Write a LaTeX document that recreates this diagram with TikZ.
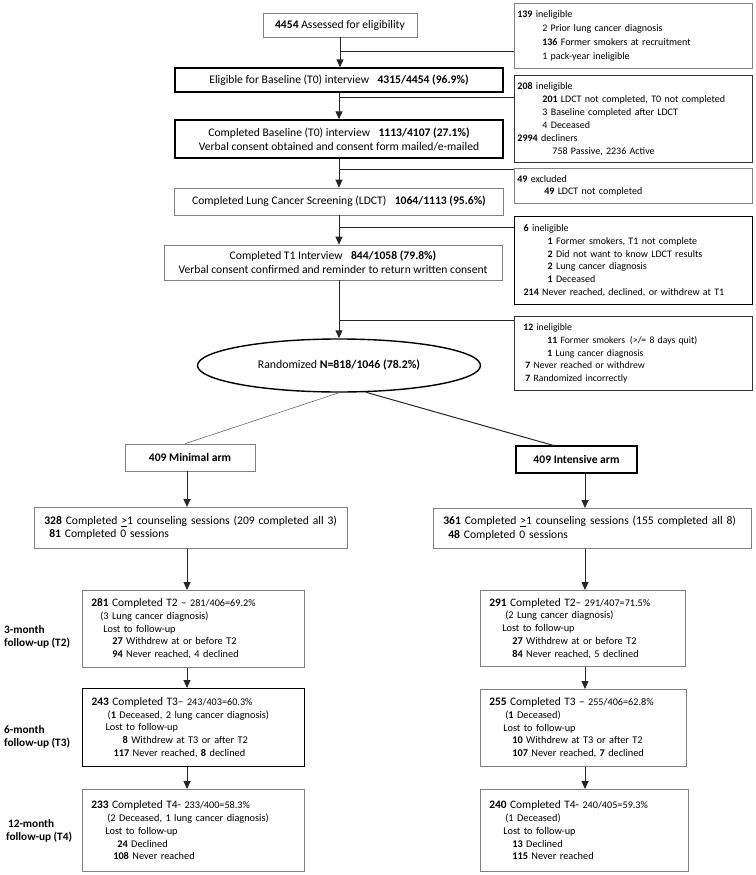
\documentclass[tikz,border=0pt]{standalone}
\usepackage{fontspec}
\setmainfont{Carlito}
\usetikzlibrary{arrows.meta,positioning,shapes.geometric}

\newcommand{\indt}[1]{\hspace*{#1pt}}
\newcommand{\frc}[1]{{\fontsize{10.2}{12}\selectfont #1}}

\tikzset{
  grey box/.style={rectangle,draw=black!50,line width=0.6pt,inner sep=0pt,align=center,font=\fontsize{11.6}{14}\selectfont},
  dark box/.style={grey box,draw=black,line width=1.4pt},
  side box/.style={rectangle,draw=black!50,line width=0.6pt,anchor=north west,align=left,inner xsep=3pt,inner ysep=0pt,minimum width=238pt,text width=232pt,font=\fontsize{10}{12.9}\selectfont},
  list box/.style={rectangle,draw=black!50,line width=0.6pt,anchor=north west,align=left,inner xsep=9pt,inner ysep=0pt,font=\fontsize{10.3}{12.8}\selectfont},
  flow/.style={->,>={Triangle[width=7pt,length=8pt]},line width=1pt,draw=black!85},
  branch/.style={line width=1pt,draw=black!85},
  tlabel/.style={anchor=west,align=left,inner sep=0pt,font=\bfseries\fontsize{11.3}{12.5}\selectfont}
}

\begin{document}
\begin{tikzpicture}[x=1pt,y=-1pt]
  \useasboundingbox (0,0) rectangle (755,875);

  % main column
  \node[grey box,minimum width=154pt,minimum height=24pt] (assess) at (340,25) {\textbf{4454} Assessed for eligibility};
  \node[dark box,minimum width=328pt,minimum height=24pt] (elig) at (339,80) {Eligible for Baseline (T0) interview\enspace\ \textbf{4315/4454 (96.9\%)}};
  \node[dark box,minimum width=328pt,minimum height=38pt] (base) at (339,139) {Completed Baseline (T0) interview\enspace\ \textbf{1113/4107 (27.1\%)}\\Verbal consent obtained and consent form mailed/e-mailed};
  \node[grey box,minimum width=329pt,minimum height=27pt] (ldct) at (339,201.5) {Completed Lung Cancer Screening (LDCT)\enspace\ \textbf{1064/1113 (95.6\%)}};
  \node[grey box,minimum width=338pt,minimum height=35pt] (tone) at (333,262.5) {Completed T1 Interview\enspace\ \textbf{844/1058 (79.8\%)}\\Verbal consent confirmed and reminder to return written consent};
  \node[ellipse,draw=black,line width=1.4pt,minimum width=283pt,minimum height=53pt,inner sep=0pt,font=\fontsize{11.8}{13}\selectfont] (rand) at (339,365.5) {Randomized \textbf{N=818/1046 (78.2\%)}};

  % side boxes
  \node[side box,minimum height=65pt,font=\fontsize{10}{14}\selectfont] (inel139) at (514,3) {\textbf{139} ineligible\\
    \indt{25}2 Prior lung cancer diagnosis\\
    \indt{25}\textbf{136} Former smokers at recruitment\\
    \indt{25}1 pack-year ineligible};
  \node[side box,minimum height=87pt,draw=black!80,line width=0.9pt] (inel208) at (514,75) {\textbf{208} ineligible\\
    \indt{25}\textbf{201} LDCT not completed, T0 not completed\\
    \indt{25}3 Baseline completed after LDCT\\
    \indt{25}4 Deceased\\
    \textbf{2994} decliners\\
    \indt{35}758 Passive, 2236 Active};
  \node[side box,minimum height=35pt] (excl49) at (514,168) {\textbf{49} excluded\\
    \indt{27}\textbf{49} LDCT not completed};
  \node[side box,minimum height=88pt,draw=black,line width=1.3pt] (inel6) at (514,216) {\indt{6}\textbf{6} ineligible\\
    \indt{30}\textbf{1} Former smokers, T1 not complete\\
    \indt{30}\textbf{2} Did not want to know LDCT results\\
    \indt{30}\textbf{2} Lung cancer diagnosis\\
    \indt{30}\textbf{1} Deceased\\
    \indt{6}\textbf{214} Never reached, declined, or withdrew at T1};
  \node[side box,minimum height=74pt,draw=black!80,line width=0.9pt,font=\fontsize{9.7}{12.7}\selectfont] (inel12) at (514,316) {\indt{6}\textbf{12} ineligible\\
    \indt{30}\textbf{11} Former smokers\enspace(>/= 8 days quit)\\
    \indt{30}\textbf{1} Lung cancer diagnosis\\
    \indt{8}\textbf{7} Never reached or withdrew\\
    \indt{8}\textbf{7} Randomized incorrectly};

  % arms
  \node[grey box,minimum width=130pt,minimum height=27pt,font=\bfseries\fontsize{11.6}{13}\selectfont] (minarm) at (190,457.5) {409 Minimal arm};
  \node[dark box,line width=1.1pt,minimum width=121pt,minimum height=27pt,font=\bfseries\fontsize{11.6}{13}\selectfont] (intarm) at (576.5,459.5) {409 Intensive arm};

  \node[list box,minimum width=313pt,minimum height=41pt,inner xsep=6pt,text width=301pt,font=\fontsize{11.6}{13.5}\selectfont] (minsess) at (34,507) {\indt{4}\textbf{328} Completed \underline{>}1 counseling sessions (209 completed all 3)\\
    \indt{9}\textbf{81} Completed 0 sessions};
  \node[list box,minimum width=318pt,minimum height=40pt,inner xsep=6pt,text width=306pt,font=\fontsize{11.6}{13.5}\selectfont] (intsess) at (433,508) {\indt{4}\textbf{361} Completed \underline{>}1 counseling sessions (155 completed all 8)\\
    \indt{9}\textbf{48} Completed 0 sessions};

  % follow-up, minimal arm
  \node[list box,minimum width=222pt,minimum height=77pt,text width=204pt] (tmin2) at (82,590) {{\fontsize{11.4}{12.8}\selectfont\textbf{281} Completed T2 -- }\frc{281/406=69.2\%}\\
    \indt{9}(3 Lung cancer diagnosis)\\
    \indt{12}Lost to follow-up\\
    \indt{21}\textbf{27} Withdrew at or before T2\\
    \indt{21}\textbf{94} Never reached, 4 declined};
  \node[list box,minimum width=222pt,minimum height=78pt,text width=204pt,draw=black,line width=1.3pt] (tmin3) at (82,688) {{\fontsize{11.4}{12.8}\selectfont\textbf{243} Completed T3-- }\frc{243/403=60.3\%}\\
    \indt{16}(\textbf{1} Deceased, 2 lung cancer diagnosis)\\
    \indt{14}Lost to follow-up\\
    \indt{31}\textbf{8} Withdrew at T3 or after T2\\
    \indt{22}\textbf{117} Never reached, \textbf{8} declined};
  \node[list box,minimum width=222pt,minimum height=82pt,text width=204pt] (tmin4) at (82,789) {{\fontsize{11.4}{12.8}\selectfont\textbf{233} Completed T4- }\frc{233/400=58.3\%}\\
    \indt{16}(2 Deceased, 1 lung cancer diagnosis)\\
    \indt{14}Lost to follow-up\\
    \indt{26}\textbf{24} Declined\\
    \indt{22}\textbf{108} Never reached};

  % follow-up, intensive arm
  \node[list box,minimum width=205pt,minimum height=76pt,text width=187pt] (tint2) at (480,590) {{\fontsize{11.4}{12.8}\selectfont\textbf{291} Completed T2-- }\frc{291/407=71.5\%}\\
    \indt{16}(2 Lung cancer diagnosis)\\
    \indt{13}Lost to follow-up\\
    \indt{23}\textbf{27} Withdrew at or before T2\\
    \indt{23}\textbf{84} Never reached, 5 declined};
  \node[list box,minimum width=206pt,minimum height=77pt,text width=188pt] (tint3) at (480,689) {{\fontsize{11.4}{12.8}\selectfont\textbf{255} Completed T3 -- }\frc{255/406=62.8\%}\\
    \indt{16}(\textbf{1} Deceased)\\
    \indt{14}Lost to follow-up\\
    \indt{23}\textbf{10} Withdrew at T3 or after T2\\
    \indt{23}\textbf{107} Never reached, \textbf{7} declined};
  \node[list box,minimum width=208pt,minimum height=82pt,text width=190pt] (tint4) at (480,789) {{\fontsize{11.4}{12.8}\selectfont\textbf{240} Completed T4- }\frc{240/405=59.3\%}\\
    \indt{16}(1 Deceased)\\
    \indt{14}Lost to follow-up\\
    \indt{23}\textbf{13} Declined\\
    \indt{23}\textbf{115} Never reached};

  % row labels
  \node[tlabel] (lab2) at (4,637) {3-month\\follow-up (T2)};
  \node[tlabel] (lab3) at (4,737) {6-month\\follow-up (T3)};
  \node[tlabel] (lab4) at (6,831) {\,12-month\\follow-up (T4)};

  % spine and branches
  \coordinate (j1) at (340,52);
  \coordinate (j2) at (339,97);
  \coordinate (j3) at (339,169);
  \coordinate (j4) at (339,227);
  \coordinate (j5) at (339,320);

  \draw[flow] (assess.south) -- (assess.south |- elig.north);
  \draw[flow] (elig.south) -- (base.north);
  \draw[flow] (base.south) -- (ldct.north);
  \draw[flow] (ldct.south) -- (ldct.south |- tone.north);
  \draw[flow] (ldct.south |- tone.south) -- (rand.north);

  \draw[branch] (j1) -- (j1 -| inel139.west);
  \draw[branch] (j2) -- (j2 -| inel208.west);
  \draw[branch] (j3) -- (j3 -| excl49.west);
  \draw[branch] (j4) -- (j4 -| inel6.west);
  \draw[branch] (j5) -- (j5 -| inel12.west);

  % split into arms
  \draw[line width=0.6pt,draw=black!60] (rand.south) -- ([xshift=-5pt]minarm.north);
  \draw[branch] (rand.-45) -- ([xshift=-23pt]intarm.north);

  \coordinate (lsp) at ([xshift=-3pt]minarm.south);
  \coordinate (rsp) at ([xshift=8.5pt]intarm.south);

  \draw[flow] (lsp) -- (lsp |- minsess.north);
  \draw[flow] (lsp |- minsess.south) -- (lsp |- tmin2.north);
  \draw[flow] (lsp |- tmin2.south) -- (lsp |- tmin3.north);
  \draw[flow] (lsp |- tmin3.south) -- (lsp |- tmin4.north);

  \draw[flow] (rsp) -- (rsp |- intsess.north);
  \draw[flow] (rsp |- intsess.south) -- (rsp |- tint2.north);
  \draw[flow] (rsp |- tint2.south) -- (rsp |- tint3.north);
  \draw[flow] (rsp |- tint3.south) -- (rsp |- tint4.north);

\end{tikzpicture}
\end{document}
